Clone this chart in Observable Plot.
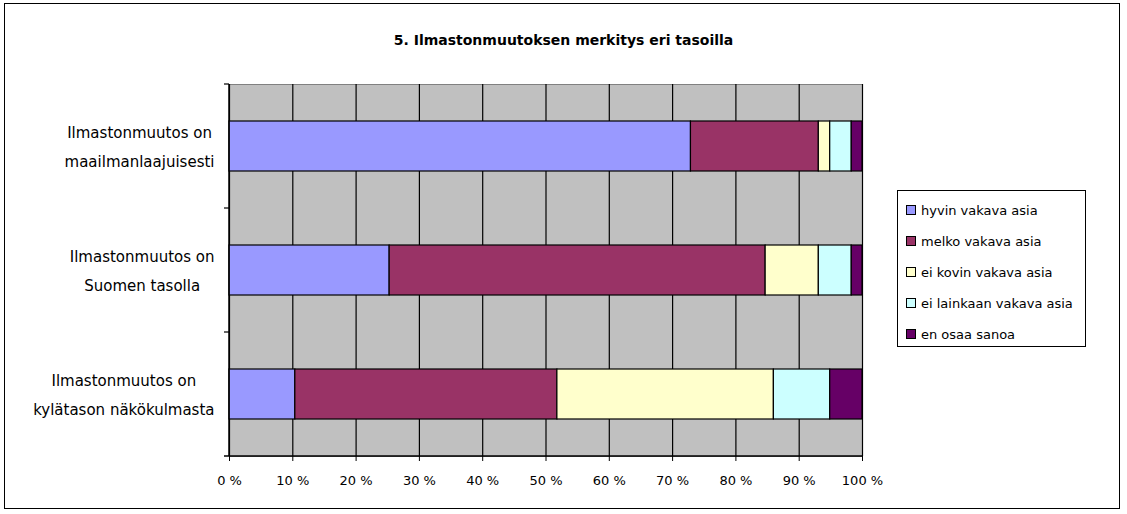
<!DOCTYPE html>
<html>
<head>
<meta charset="utf-8">
<script src="https://cdn.jsdelivr.net/npm/d3@7"></script>
<script src="https://cdn.jsdelivr.net/npm/@observablehq/plot@0.6"></script>
<style>
  html, body { margin: 0; padding: 0; background: #fff; }
  #wrap { position: relative; width: 1127px; height: 514px; font-family: "DejaVu Sans", Verdana, sans-serif; color: #000; }
  #border { position: absolute; left: 4px; top: 3px; width: 1116px; height: 506px; border: 1.5px solid #000; box-sizing: border-box; pointer-events: none; }
  #title { position: absolute; left: 0; width: 1127px; top: 32px; text-align: center; font-weight: bold; font-size: 14px; }
  #legend { position: absolute; left: 897px; top: 190px; width: 189px; height: 157px; border: 1px solid #000; box-sizing: border-box; background: #fff; font-size: 13px; }
  .item { position: absolute; left: 8px; height: 16px; line-height: 16px; white-space: nowrap; }
  .sw { display: inline-block; width: 8px; height: 8px; border: 1px solid #000; margin-right: 5px; vertical-align: 0px; }
  #chart svg { position: absolute; left: 0; top: 0; }
</style>
</head>
<body>
<div id="wrap">
  <div id="chart"></div>
  <div id="title"></div>
  <div id="legend"></div>
  <div id="border"></div>
</div>
<script>
const titleText = "5. Ilmastonmuutoksen merkitys eri tasoilla";
const categories = [
  "Ilmastonmuutos on\nmaailmanlaajuisesti",
  "Ilmastonmuutos on\nSuomen tasolla",
  "Ilmastonmuutos on\nkylätason näkökulmasta"
];
const seriesNames = ["hyvin vakava asia", "melko vakava asia", "ei kovin vakava asia", "ei lainkaan vakava asia", "en osaa sanoa"];
const hyvinVakava = [72.9, 25.3, 10.4];
const melkoVakava = [20.2, 59.4, 41.4];
const eiKovinVakava = [1.8, 8.4, 34.2];
const eiLainkaanVakava = [3.4, 5.2, 8.9];
const enOsaaSanoa = [1.7, 1.7, 5.1];
const seriesColors = ["#9999ff", "#993366", "#ffffcc", "#ccffff", "#660066"];
const xTicks = [0, 10, 20, 30, 40, 50, 60, 70, 80, 90, 100];

const seriesValues = [hyvinVakava, melkoVakava, eiKovinVakava, eiLainkaanVakava, enOsaaSanoa];
const data = [];
categories.forEach((c, i) => {
  seriesNames.forEach((s, j) => data.push({cat: c, series: s, value: seriesValues[j][i]}));
});

const FONT = '"DejaVu Sans", Verdana, sans-serif';
const labelSize = 15;
const ctx = document.createElement("canvas").getContext("2d");
ctx.font = `${labelSize}px ${FONT}`;
function blockWidth(label) {
  return d3.max(label.split("\n"), l => ctx.measureText(l).width);
}

// axis lines and y ticks drawn from scales and dimensions
function axisLines(index, scales, values, dims) {
  const g = d3.create("svg:g");
  const x0 = scales.x(0), x1 = scales.x(100);
  const yTop = dims.marginTop, yBot = dims.height - dims.marginBottom;
  g.append("line").attr("x1", x0).attr("x2", x0).attr("y1", yTop).attr("y2", yBot).attr("stroke", "#000").attr("stroke-width", 1.5);
  g.append("line").attr("x1", x0 - 5).attr("x2", x1).attr("y1", yBot).attr("y2", yBot).attr("stroke", "#000").attr("stroke-width", 1.5);
  const y = scales.y;
  const step = y.step();
  for (const c of categories) {
    const yb = y(c) + y.bandwidth() / 2 - step / 2;
    g.append("line").attr("x1", x0 - 5).attr("x2", x0).attr("y1", yb).attr("y2", yb).attr("stroke", "#000").attr("stroke-width", 1.2);
  }
  return g.node();
}

const plot = Plot.plot({
  width: 1127,
  height: 514,
  marginLeft: 229,
  marginRight: 265,
  marginTop: 84,
  marginBottom: 58,
  style: {fontFamily: FONT, fontSize: "13px", color: "#000", background: "transparent"},
  x: {domain: [0, 100], label: null, axis: null},
  y: {domain: categories, paddingInner: 0.6, paddingOuter: 0.3, label: null, axis: null},
  color: {domain: seriesNames, range: seriesColors},
  marks: [
    Plot.frame({fill: "#c0c0c0", stroke: "#808080"}),
    Plot.gridX(xTicks, {stroke: "#000", strokeOpacity: 1, strokeWidth: 1.2}),
    Plot.barX(data, Plot.stackX({x: "value", y: "cat", fill: "series", stroke: "#000", strokeWidth: 1.2, order: seriesNames})),
    axisLines,
    Plot.axisX(xTicks, {tickFormat: d => d + " %", tickSize: 5, tickPadding: 14, stroke: "#000", fontSize: 13, label: null}),
    ...categories.map(c => Plot.text([c], {
      y: d => d, text: d => d, frameAnchor: "left", textAnchor: "middle",
      dx: -(blockWidth(c) / 2 + 15), dy: -3, lineHeight: 1.9, fontSize: labelSize, fill: "#000"
    }))
  ]
});
document.getElementById("chart").appendChild(plot);

document.getElementById("title").textContent = titleText;
const legend = document.getElementById("legend");
seriesNames.forEach((s, i) => {
  const it = document.createElement("div");
  it.className = "item";
  it.style.top = (12 + i * 31) + "px";
  const sw = document.createElement("span");
  sw.className = "sw";
  sw.style.background = seriesColors[i];
  it.appendChild(sw);
  it.appendChild(document.createTextNode(s));
  legend.appendChild(it);
});
</script>
</body>
</html>
